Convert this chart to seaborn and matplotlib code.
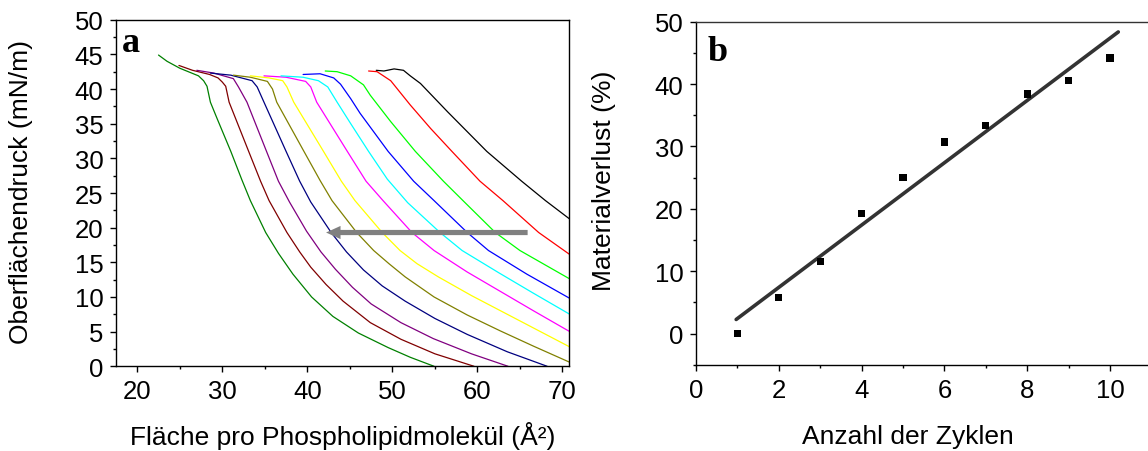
import numpy as np
import pandas as pd
import matplotlib
matplotlib.use("Agg")
import matplotlib.pyplot as plt
from matplotlib.ticker import MultipleLocator
import seaborn as sns

# --- panel a: surface pressure isotherms, one per compression cycle ---
area_01 = [22.5, 23.5, 25.0, 26.2, 27.2, 27.8, 28.2, 28.6, 29.4, 31.0, 32.3, 33.3, 35.1, 36.6, 38.3, 40.5, 43.0, 46.0, 49.5, 52.1, 54.9]
pres_01 = [44.9, 44.0, 43.0, 42.4, 41.9, 41.2, 40.4, 38.1, 35.7, 31.0, 26.9, 23.9, 19.3, 16.3, 13.3, 10.0, 7.2, 4.8, 2.7, 1.3, 0.0]

area_02 = [24.9, 26.5, 28.5, 29.5, 30.0, 30.4, 30.8, 33.1, 34.5, 35.5, 37.6, 39.1, 40.4, 42.2, 44.2, 47.4, 51.0, 55.0, 59.6]
pres_02 = [43.4, 42.7, 42.1, 41.6, 41.0, 40.4, 38.1, 31.0, 26.7, 23.9, 19.3, 16.5, 14.3, 11.8, 9.4, 6.3, 3.9, 1.8, 0.0]

area_03 = [27.0, 29.0, 31.3, 31.9, 32.9, 35.2, 36.6, 37.9, 39.9, 41.6, 43.3, 45.3, 47.5, 51.0, 54.8, 59.3, 63.6]
pres_03 = [42.7, 42.3, 41.5, 40.3, 38.1, 31.0, 26.7, 23.7, 19.5, 16.5, 14.0, 11.4, 9.0, 6.3, 4.0, 1.8, 0.0]

area_04 = [28.6, 31.0, 33.5, 34.1, 34.9, 37.5, 39.1, 40.4, 42.8, 44.6, 46.6, 48.8, 51.5, 55.0, 58.8, 63.5, 68.2]
pres_04 = [42.3, 42.0, 41.2, 40.3, 38.1, 31.0, 26.7, 23.7, 19.3, 16.5, 13.9, 11.6, 9.4, 6.9, 4.6, 2.1, 0.0]

area_05 = [31.3, 33.3, 35.3, 35.9, 36.4, 39.6, 41.5, 42.9, 45.8, 47.8, 49.6, 51.5, 54.9, 58.8, 62.7, 66.6, 71.0]
pres_05 = [42.0, 41.7, 41.1, 40.0, 38.1, 31.0, 26.8, 23.9, 19.3, 16.7, 14.8, 12.9, 10.0, 7.4, 5.1, 2.9, 0.5]

area_06 = [33.3, 35.5, 37.1, 37.6, 38.4, 41.9, 44.0, 45.6, 48.8, 50.9, 52.9, 55.4, 59.3, 63.2, 67.1, 71.0]
pres_06 = [41.9, 41.6, 41.2, 40.3, 38.1, 31.0, 26.7, 23.9, 19.3, 16.7, 14.8, 12.9, 10.2, 7.7, 5.2, 2.7]

area_07 = [34.9, 37.5, 39.8, 40.4, 41.1, 44.7, 46.9, 48.9, 52.3, 54.9, 58.8, 62.7, 66.6, 71.0]
pres_07 = [41.9, 41.7, 41.1, 40.3, 38.1, 31.0, 26.7, 23.9, 19.3, 16.7, 13.6, 10.8, 8.0, 4.9]

area_08 = [36.9, 39.5, 41.3, 42.4, 43.5, 45.1, 47.2, 49.4, 51.8, 55.6, 58.2, 62.5, 66.5, 71.0]
pres_08 = [41.9, 41.7, 41.2, 40.3, 38.1, 35.0, 31.0, 27.0, 23.6, 19.3, 16.7, 13.5, 10.6, 7.4]

area_09 = [39.5, 41.5, 43.1, 43.9, 45.1, 46.2, 49.5, 52.5, 54.9, 58.8, 61.3, 65.8, 71.0]
pres_09 = [42.1, 42.2, 41.6, 40.7, 38.6, 36.5, 31.0, 26.7, 23.9, 19.3, 16.7, 13.3, 9.7]

area_10 = [42.1, 43.5, 45.1, 46.6, 47.4, 49.8, 52.7, 56.0, 58.3, 62.1, 65.0, 71.0]
pres_10 = [42.6, 42.5, 41.9, 40.6, 39.1, 35.3, 31.0, 26.7, 23.9, 19.3, 16.7, 12.5]

area_11 = [47.2, 48.2, 49.8, 52.1, 54.5, 57.0, 60.3, 63.0, 67.2, 71.0]
pres_11 = [42.6, 42.5, 41.2, 37.7, 34.3, 31.0, 26.7, 23.9, 19.3, 16.0]

area_12 = [48.1, 49.0, 50.2, 51.3, 52.1, 53.3, 56.5, 61.1, 65.2, 68.0, 71.0]
pres_12 = [42.7, 42.6, 42.9, 42.7, 41.9, 40.8, 36.7, 31.0, 26.7, 23.9, 21.1]

curve_colors = ["#008000", "#800000", "#800080", "#000080", "#808000", "#FFFF00",
                "#FF00FF", "#00FFFF", "#0000FF", "#00FF00", "#FF0000", "#000000"]

# arrow indicating the shift with increasing cycle number
arrow_start = 65.9
arrow_end = 42.2
arrow_level = 19.3

# --- panel b: material loss versus number of cycles ---
cycles = [1, 2, 3, 4, 5, 6, 7, 8, 9, 10]
loss = [0.0, 5.8, 11.5, 19.2, 25.0, 30.7, 33.4, 38.4, 40.6, 44.2]

areas = [area_01, area_02, area_03, area_04, area_05, area_06,
         area_07, area_08, area_09, area_10, area_11, area_12]
pressures = [pres_01, pres_02, pres_03, pres_04, pres_05, pres_06,
             pres_07, pres_08, pres_09, pres_10, pres_11, pres_12]

iso = pd.concat(
    [pd.DataFrame({"area": a, "pressure": p, "curve": i})
     for i, (a, p) in enumerate(zip(areas, pressures))],
    ignore_index=True,
)

sns.set_style("ticks", {"axes.edgecolor": "black", "xtick.color": "black",
                        "ytick.color": "black", "text.color": "black",
                        "axes.labelcolor": "black"})
plt.rcParams["font.family"] = ["Liberation Sans", "DejaVu Sans"]

LABEL_SIZE = 19
TICK_SIZE = 18.5

W, H = 1148, 452
fig = plt.figure(figsize=(W / 100, H / 100), dpi=100)
ax1 = fig.add_axes([116 / W, 1 - 367.3 / H, 453.3 / W, 346.6 / H])
ax2 = fig.add_axes([696 / W, 1 - 365.7 / H, 455.4 / W, 343.0 / H])

# panel a
sns.lineplot(data=iso, x="area", y="pressure", hue="curve", palette=curve_colors,
             sort=False, estimator=None, legend=False, linewidth=0.9, ax=ax1)
ax1.arrow(arrow_start, arrow_level, arrow_end - arrow_start, 0,
          width=0.75, head_width=1.9, head_length=1.7, length_includes_head=True,
          color="#808080", lw=0, zorder=5)
ax1.set_xlim(17.5, 70.8)
ax1.set_ylim(0, 50)
ax1.xaxis.set_major_locator(MultipleLocator(10))
ax1.xaxis.set_minor_locator(MultipleLocator(5))
ax1.yaxis.set_major_locator(MultipleLocator(5))
ax1.yaxis.set_minor_locator(MultipleLocator(2.5))
ax1.set_xlabel("Fläche pro Phospholipidmolekül (Å²)", fontsize=LABEL_SIZE)
ax1.set_ylabel("Oberflächendruck (mN/m)", fontsize=LABEL_SIZE)
ax1.xaxis.set_label_coords(0.5, -0.158)
ax1.yaxis.set_label_coords(-0.183, 0.506)
ax1.text(0.0126, 0.910, "a", transform=ax1.transAxes, fontsize=26,
         fontweight="bold", family=["Liberation Serif", "DejaVu Serif"],
         ha="left", va="baseline")
for s in ax1.spines.values():
    s.set_linewidth(1.0)

# panel b
sns.scatterplot(x=cycles, y=loss, marker="s", color="black", s=28,
                edgecolor="none", ax=ax2, zorder=3)
slope, intercept = np.polyfit(cycles, loss, 1)
fit_x = np.array([min(cycles) - 0.03, max(cycles) + 0.2])
sns.lineplot(x=fit_x, y=slope * fit_x + intercept, color="#333333",
             linewidth=2.6, ax=ax2)
ax2.set_xlim(0, 11)
ax2.set_ylim(-5, 50)
ax2.xaxis.set_major_locator(MultipleLocator(2))
ax2.xaxis.set_minor_locator(MultipleLocator(1))
ax2.yaxis.set_major_locator(MultipleLocator(10))
ax2.yaxis.set_minor_locator(MultipleLocator(5))
ax2.set_xlabel("Anzahl der Zyklen", fontsize=LABEL_SIZE)
ax2.set_ylabel("Materialverlust (%)", fontsize=LABEL_SIZE)
ax2.xaxis.set_label_coords(0.4645, -0.173)
ax2.yaxis.set_label_coords(-0.176, 0.538)
ax2.text(0.026, 0.888, "b", transform=ax2.transAxes, fontsize=26,
         fontweight="bold", family=["Liberation Serif", "DejaVu Serif"],
         ha="left", va="baseline")
ax2.spines["right"].set_visible(False)
ax2.spines["top"].set_color("#333333")
for s in ax2.spines.values():
    s.set_linewidth(1.0)

for ax in (ax1, ax2):
    ax.tick_params(which="major", direction="out", length=4.5, width=1.0,
                   labelsize=TICK_SIZE)
    ax.tick_params(which="minor", direction="out", length=2.5, width=1.0)
    ax.tick_params(axis="x", which="major", pad=5)
    ax.tick_params(axis="y", which="major", pad=4.5)

fig.savefig("out.png", dpi=100)
